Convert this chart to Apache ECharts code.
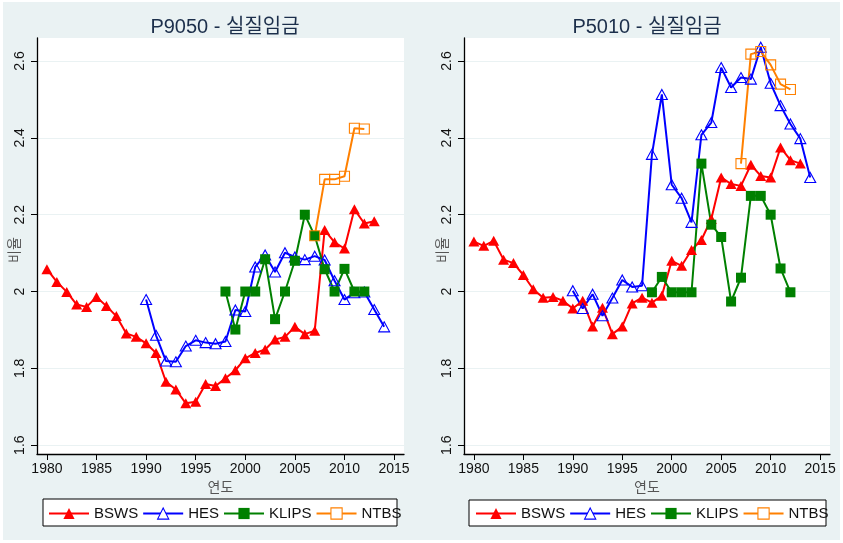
<!DOCTYPE html>
<html>
<head>
<meta charset="utf-8">
<script src="https://cdn.jsdelivr.net/npm/echarts@6/dist/echarts.min.js"></script>
<style>
html,body{margin:0;padding:0;background:#fff;}
#c{width:843px;height:543px;}
</style>
</head>
<body>
<div id="c"></div>
<script>
// ---- data ----
const titles = ['P9050 - 실질임금', 'P5010 - 실질임금'];
const seriesNames = ['BSWS', 'HES', 'KLIPS', 'NTBS'];
const startYears = { BSWS: 1980, HES: 1990, KLIPS: 1998, NTBS: 2007 };
const xTicks = [1980, 1985, 1990, 1995, 2000, 2005, 2010, 2015];
const yTicks = [1.6, 1.8, 2.0, 2.2, 2.4, 2.6];
const xName = '연도';
const yName = '비율';

// P9050 panel
const p9050_BSWS = [2.058,2.025,1.999,1.966,1.960,1.986,1.962,1.936,1.891,1.882,1.865,1.840,1.765,1.745,1.709,1.713,1.759,1.754,1.774,1.795,1.826,1.840,1.849,1.875,1.882,1.908,1.889,1.898,2.160,2.128,2.112,2.214,2.177,2.183];
const p9050_HES = [1.979,1.886,1.819,1.817,1.858,1.873,1.867,1.864,1.870,1.952,1.948,2.064,2.095,2.051,2.101,2.090,2.083,2.092,2.082,2.028,1.979,1.997,1.999,1.953,1.908];
const p9050_KLIPS = [2.0,1.901,2.0,2.0,2.084,1.928,2.0,2.08,2.2,2.145,2.058,2.0,2.059,2.0,2.0];
const p9050_NTBS = [2.145,2.292,2.292,2.3,2.425,2.423];

// P5010 panel
const p5010_BSWS = [2.130,2.119,2.132,2.083,2.074,2.043,2.006,1.984,1.986,1.976,1.956,1.976,1.909,1.958,1.889,1.909,1.969,1.984,1.971,1.989,2.080,2.067,2.108,2.134,2.189,2.297,2.280,2.275,2.330,2.301,2.297,2.375,2.342,2.333];
const p5010_HES = [2.002,1.956,1.993,1.937,1.983,2.030,2.012,2.015,2.357,2.513,2.278,2.243,2.180,2.408,2.440,2.583,2.531,2.557,2.553,2.636,2.542,2.484,2.436,2.398,2.297];
const p5010_KLIPS = [1.998,2.038,1.998,1.998,1.998,2.333,2.174,2.142,1.974,2.036,2.249,2.249,2.200,2.060,1.998];
const p5010_NTBS = [2.333,2.618,2.625,2.590,2.540,2.526];

const panels = [
  { BSWS: p9050_BSWS, HES: p9050_HES, KLIPS: p9050_KLIPS, NTBS: p9050_NTBS },
  { BSWS: p5010_BSWS, HES: p5010_HES, KLIPS: p5010_KLIPS, NTBS: p5010_NTBS }
];

// ---- styles ----
const FONT = "'Liberation Sans', Arial, 'Noto Sans CJK KR', sans-serif";
const BG = '#EAF2F3';
const styles = {
  BSWS:  { color: '#ff0000', symbol: 'triangle', size: [11, 10], hollow: false },
  HES:   { color: '#0000ff', symbol: 'triangle', size: [11, 10], hollow: true },
  KLIPS: { color: '#008000', symbol: 'rect', size: [10, 10], hollow: false },
  NTBS:  { color: '#ff8000', symbol: 'rect', size: [10, 10], hollow: true }
};

function pairs(name, vals) {
  return vals.map((v, i) => [startYears[name] + i, v]);
}

const grids = [
  { left: 37, top: 38, width: 367, height: 416 },
  { left: 464, top: 38, width: 366, height: 416 }
].map(g => Object.assign(g, { show: true, backgroundColor: '#fff', borderWidth: 0, containLabel: false }));

function xAxis(i) {
  return {
    type: 'value', gridIndex: i, min: 1979, max: 2016,
    name: xName, nameLocation: 'middle', nameGap: 20,
    nameTextStyle: { color: '#555', fontSize: 14, fontFamily: FONT },
    axisLine: { show: true, onZero: false, lineStyle: { color: '#000', width: 1.3 } },
    axisTick: { show: true, length: 6, customValues: xTicks, lineStyle: { color: '#000' } },
    axisLabel: { customValues: xTicks, color: '#111', fontSize: 14, fontFamily: FONT, margin: 8,
                 formatter: v => String(v) },
    splitLine: { show: false }
  };
}
function yAxis(i) {
  return {
    type: 'value', gridIndex: i, min: 1.577, max: 2.66,
    axisLine: { show: true, onZero: false, lineStyle: { color: '#000', width: 1.3 } },
    axisTick: { show: true, length: 6, customValues: yTicks, lineStyle: { color: '#000' } },
    axisLabel: { customValues: yTicks, rotate: 90, color: '#111', fontSize: 14, fontFamily: FONT, margin: 10,
                 formatter: v => String(+v.toFixed(1)) },
    splitLine: { show: true, lineStyle: { color: BG, width: 1 } }
  };
}

const series = [];
panels.forEach((p, gi) => {
  seriesNames.forEach(name => {
    const s = styles[name];
    series.push({
      type: 'line', name: name, xAxisIndex: gi, yAxisIndex: gi,
      data: pairs(name, p[name]),
      symbol: s.symbol, symbolSize: s.size, showSymbol: true, showAllSymbol: true,
      lineStyle: { color: s.color, width: 2 },
      itemStyle: s.hollow
        ? { color: 'rgba(255,255,255,0)', borderColor: s.color, borderWidth: 1.1 }
        : { color: s.color, borderWidth: 0 },
      emphasis: { disabled: true },
      animation: false
    });
  });
});

const legendData = seriesNames.map(n => styles[n].hollow
  ? { name: n, itemStyle: { color: '#fff', borderColor: styles[n].color, borderWidth: 1.1 } }
  : { name: n });

function legend(left) {
  return {
    data: legendData, left: left, top: 506, orient: 'horizontal', padding: 0,
    itemWidth: 40, itemHeight: 14, itemGap: 4, selectedMode: false,
    textStyle: { color: '#111', fontSize: 15, fontFamily: FONT }
  };
}

function yNameText(x) {
  return { type: 'text', x: x, y: 250, rotation: Math.PI / 2, silent: true, z: 10,
           style: { text: yName, fill: '#555', font: '14px ' + FONT, align: 'center', verticalAlign: 'middle' } };
}

const option = {
  backgroundColor: '#fff',
  animation: false,
  graphic: [
    { type: 'rect', shape: { x: 3, y: 2, width: 837, height: 538 }, style: { fill: BG }, z: -10, silent: true },
    { type: 'rect', shape: { x: 43, y: 499, width: 354, height: 27 }, style: { fill: '#fff', stroke: '#000', lineWidth: 1 }, z: -5, silent: true },
    { type: 'rect', shape: { x: 469, y: 500, width: 357, height: 26 }, style: { fill: '#fff', stroke: '#000', lineWidth: 1 }, z: -5, silent: true },
    yNameText(15),
    yNameText(443)
  ],
  title: [
    { text: titles[0], left: 220, top: 12, textAlign: 'center',
      textStyle: { color: '#1c2f4b', fontSize: 20, fontWeight: 'normal', fontFamily: FONT } },
    { text: titles[1], left: 642, top: 12, textAlign: 'center',
      textStyle: { color: '#1c2f4b', fontSize: 20, fontWeight: 'normal', fontFamily: FONT } }
  ],
  legend: [legend(48), legend(475)],
  grid: grids,
  xAxis: [xAxis(0), xAxis(1)],
  yAxis: [yAxis(0), yAxis(1)],
  series: series
};

const chart = echarts.init(document.getElementById('c'), null, { renderer: 'canvas' });
chart.setOption(option);
</script>
</body>
</html>
